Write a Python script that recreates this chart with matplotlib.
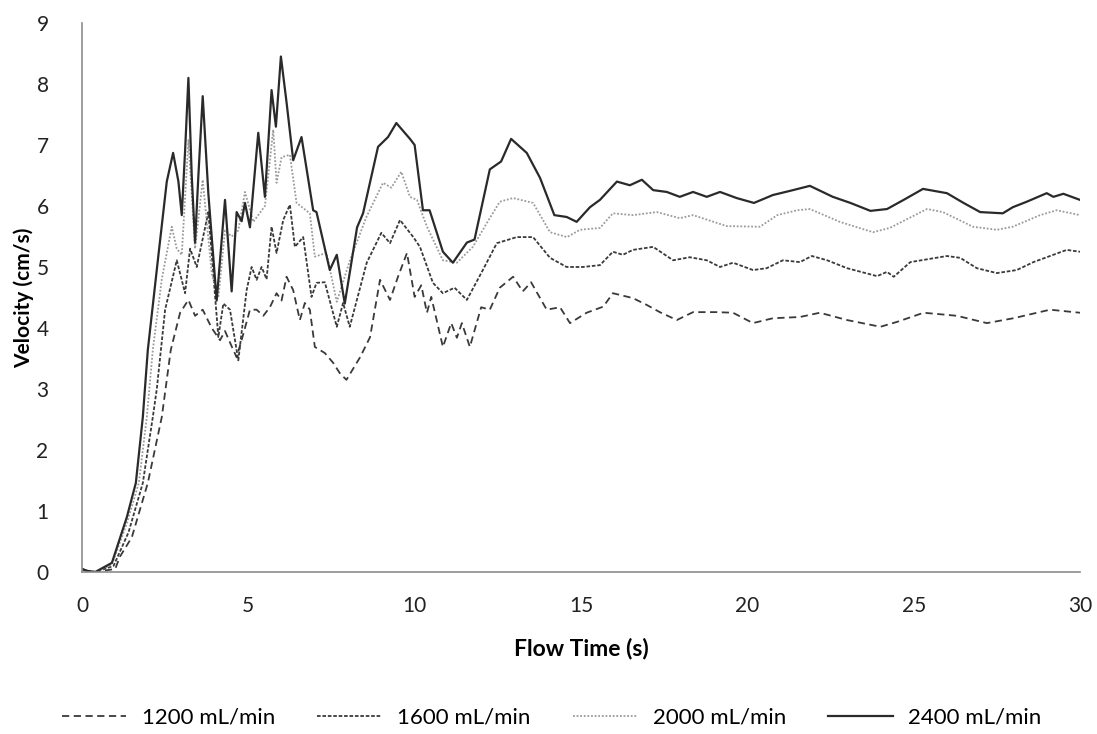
import matplotlib
matplotlib.use("Agg")
import matplotlib.pyplot as plt

plt.rcParams['font.family'] = ['Lato', 'DejaVu Sans']

# flow rates (legend labels)
labels = ['1200 mL/min', '1600 mL/min', '2000 mL/min', '2400 mL/min']

# 1200 mL/min
t_1200 = [0, 0.15, 0.4, 1.0, 1.14, 1.5, 1.98, 2.4, 2.67, 2.95, 3.2, 3.4, 3.63, 3.9, 4.15,
          4.3, 4.5, 4.65, 4.85, 5.05, 5.25, 5.45, 5.65, 5.85, 6.0, 6.15, 6.35, 6.55, 6.7,
          6.85, 7.0, 7.3, 7.55, 7.75, 7.95, 8.36, 8.66, 8.96, 9.26, 9.5, 9.77, 10.0, 10.2,
          10.37, 10.5, 10.85, 11.1, 11.27, 11.42, 11.66, 12.0, 12.26, 12.56, 12.96, 13.25,
          13.5, 13.97, 14.37, 14.67, 15.17, 15.67, 15.96, 16.56, 16.97, 17.37, 17.88, 18.37,
          19.08, 19.57, 20.17, 20.77, 21.58, 22.18, 23.0, 24.0, 24.5, 25.3, 26.3, 27.2,
          28.0, 29.1, 30]
v_1200 = [0.05, 0.02, 0, 0.05, 0.25, 0.57, 1.46, 2.54, 3.64, 4.25, 4.46, 4.2, 4.3, 4.0, 3.8,
          3.95, 3.7, 3.52, 3.9, 4.3, 4.3, 4.2, 4.34, 4.57, 4.45, 4.84, 4.62, 4.13, 4.41,
          4.3, 3.69, 3.59, 3.43, 3.26, 3.15, 3.52, 3.85, 4.79, 4.46, 4.84, 5.23, 4.51, 4.7,
          4.25, 4.51, 3.69, 4.08, 3.84, 4.08, 3.69, 4.34, 4.3, 4.66, 4.84, 4.6,
          4.75, 4.3, 4.34, 4.08, 4.25, 4.35, 4.57, 4.49, 4.38, 4.26, 4.13, 4.26,
          4.26, 4.25, 4.08, 4.16, 4.18, 4.25, 4.13, 4.02, 4.1, 4.25, 4.2, 4.08,
          4.16, 4.3, 4.25]

# 1600 mL/min
t_1600 = [0, 0.15, 0.4, 0.95, 1.4, 1.83, 2.13, 2.25, 2.5, 2.85, 3.1, 3.25, 3.45, 3.8, 4.1,
          4.25, 4.45, 4.7, 4.95, 5.1, 5.25, 5.4, 5.55, 5.7, 5.85, 6.05, 6.25, 6.4, 6.65,
          6.9, 7.05, 7.3, 7.66, 7.85, 8.05, 8.56, 9.0, 9.26, 9.56, 9.96, 10.16, 10.55,
          10.85, 11.2, 11.57, 12.05, 12.47, 13.07, 13.56, 14.07, 14.57, 15.06, 15.57,
          15.96, 16.26, 16.56, 17.17, 17.77, 18.27, 18.78, 19.18, 19.57, 20.17, 20.58,
          21.07, 21.58, 21.94, 22.4, 23.0, 23.9, 24.2, 24.4, 24.9, 26.0, 26.4, 26.9,
          27.5, 28.1, 28.6, 29.6, 30]
v_1600 = [0.05, 0.02, 0, 0.1, 0.65, 1.46, 2.54, 3.0, 4.3, 5.11, 4.57, 5.3, 5.0, 5.9, 3.85,
          4.4, 4.3, 3.47, 4.62, 5.0, 4.79, 5.0, 4.8, 5.66, 5.23, 5.77, 6.02, 5.33, 5.49,
          4.51, 4.74, 4.75, 4.02, 4.41, 4.02, 5.07, 5.56, 5.39, 5.77, 5.49, 5.33, 4.74,
          4.57, 4.66, 4.46, 4.95, 5.39, 5.49, 5.49, 5.15, 5.0, 5.0, 5.03,
          5.25, 5.2, 5.28, 5.33, 5.11, 5.16, 5.11, 5.0, 5.07, 4.95, 4.98,
          5.11, 5.08, 5.18, 5.11, 4.98, 4.85, 4.92, 4.84, 5.08, 5.18, 5.15, 4.98,
          4.9, 4.95, 5.08, 5.28, 5.25]

# 2000 mL/min
t_2000 = [0, 0.15, 0.4, 0.9, 1.35, 1.71, 1.95, 2.13, 2.4, 2.7, 2.85, 3.0, 3.2, 3.4, 3.63,
          3.9, 4.1, 4.3, 4.5, 4.7, 4.9, 5.15, 5.5, 5.75, 5.85, 6.0, 6.25, 6.45, 6.85, 7.0,
          7.35, 7.66, 8.05, 8.55, 9.05, 9.3, 9.6, 9.86, 10.07, 10.37, 10.85, 11.27, 11.75,
          12.17, 12.56, 12.96, 13.56, 14.07, 14.58, 14.97, 15.57, 15.96, 16.56, 17.28,
          17.97, 18.37, 19.38, 20.38, 20.9, 21.5, 21.88, 22.78, 23.78, 24.28, 25.4, 25.88,
          26.78, 27.5, 27.98, 28.8, 29.3, 30]
v_2000 = [0.05, 0.02, 0, 0.12, 0.8, 1.46, 2.54, 3.64, 4.8, 5.66, 5.3, 5.2, 7.08, 5.3, 6.43,
          4.9, 4.5, 5.6, 5.5, 5.6, 6.23, 5.74, 6.0, 7.25, 6.38, 6.8, 6.84, 6.05, 5.88, 5.17,
          5.23, 4.43, 5.1, 5.82, 6.38, 6.3, 6.56, 6.15, 6.1, 5.66, 5.11, 5.07, 5.33,
          5.72, 6.07, 6.13, 6.05, 5.57, 5.49, 5.61, 5.64, 5.88, 5.85, 5.9,
          5.8, 5.85, 5.67, 5.66, 5.85, 5.93, 5.95, 5.74, 5.57, 5.64, 5.95, 5.9,
          5.66, 5.61, 5.66, 5.85, 5.93, 5.85]

# 2400 mL/min
t_2400 = [0, 0.15, 0.4, 0.9, 1.35, 1.62, 1.83, 1.98, 2.3, 2.55, 2.74, 2.9, 3.0, 3.1, 3.2,
          3.3, 3.4, 3.5, 3.63, 3.8, 4.05, 4.3, 4.5, 4.65, 4.8, 4.9, 5.05, 5.3, 5.5, 5.7,
          5.83, 5.98, 6.15, 6.35, 6.6, 6.95, 7.05, 7.45, 7.66, 7.9, 8.27, 8.45, 8.9, 9.2,
          9.45, 9.86, 10.0, 10.25, 10.45, 10.85, 11.15, 11.57, 11.8, 12.26, 12.6, 12.9,
          13.37, 13.77, 14.2, 14.57, 14.87, 15.27, 15.57, 16.08, 16.47, 16.83, 17.17,
          17.58, 17.97, 18.37, 18.78, 19.18, 19.68, 20.2, 20.77, 21.3, 21.88, 22.57, 23.1,
          23.7, 24.2, 24.7, 25.28, 26.0, 26.5, 27.0, 27.68, 27.98, 28.4, 29.0, 29.2, 29.5, 30]
v_2400 = [0.05, 0.02, 0, 0.15, 0.9, 1.46, 2.54, 3.64, 5.2, 6.4, 6.87, 6.4, 5.85, 6.9, 8.1,
          6.5, 5.4, 6.5, 7.8, 6.2, 4.45, 6.1, 4.6, 5.9, 5.75, 6.05, 5.65, 7.2, 6.15, 7.9,
          7.3, 8.45, 7.7, 6.75, 7.13, 5.93, 5.9, 4.95, 5.2, 4.4, 5.65, 5.88, 6.97, 7.13,
          7.36, 7.1, 7.0, 5.93, 5.93, 5.25, 5.07, 5.4, 5.45, 6.6, 6.73, 7.1,
          6.87, 6.46, 5.85, 5.82, 5.74, 5.98, 6.1, 6.4, 6.34, 6.43, 6.26,
          6.23, 6.15, 6.23, 6.15, 6.23, 6.13, 6.05, 6.18, 6.25, 6.33, 6.15, 6.05,
          5.92, 5.95, 6.1, 6.28, 6.21, 6.05, 5.9, 5.88, 5.98, 6.07, 6.21, 6.15, 6.2, 6.1]

fig = plt.figure(figsize=(10.97, 7.34), dpi=100)
ax = fig.add_axes([0.0747, 0.2207, 0.9098, 0.748])

ax.plot(t_1200, v_1200, color='#3a3a3a', lw=1.3, dashes=(4, 2.5), label=labels[0])
ax.plot(t_1600, v_1600, color='#3a3a3a', lw=1.3, dashes=(2, 1), label=labels[1])
ax.plot(t_2000, v_2000, color='#9a9a9a', lw=1.3, dashes=(1, 1), label=labels[2])
ax.plot(t_2400, v_2400, color='#2a2a2a', lw=1.6, label=labels[3])

ax.set_xlim(0, 30)
ax.set_ylim(0, 9)
ax.set_xticks(range(0, 31, 5))
ax.set_yticks(range(0, 10))
for s in ['top', 'right']:
    ax.spines[s].set_visible(False)
for s in ['left', 'bottom']:
    ax.spines[s].set_color('#8c8c8c')
    ax.spines[s].set_linewidth(1.2)
ax.tick_params(length=0, labelsize=15, colors='#222222')
ax.tick_params(axis='x', pad=17)
ax.tick_params(axis='y', pad=24)

ax.set_xlabel('Flow Time (s)', fontsize=16.5, fontweight='bold', labelpad=16)
ax.set_ylabel('Velocity (cm/s)', fontsize=15, fontweight='bold', labelpad=2)

fig.legend(loc='center', bbox_to_anchor=(0.503, 0.022), ncol=4, frameon=False,
           fontsize=16, handlelength=2.9, columnspacing=1.9, handletextpad=0.7)

fig.savefig('out.png', dpi=100)
